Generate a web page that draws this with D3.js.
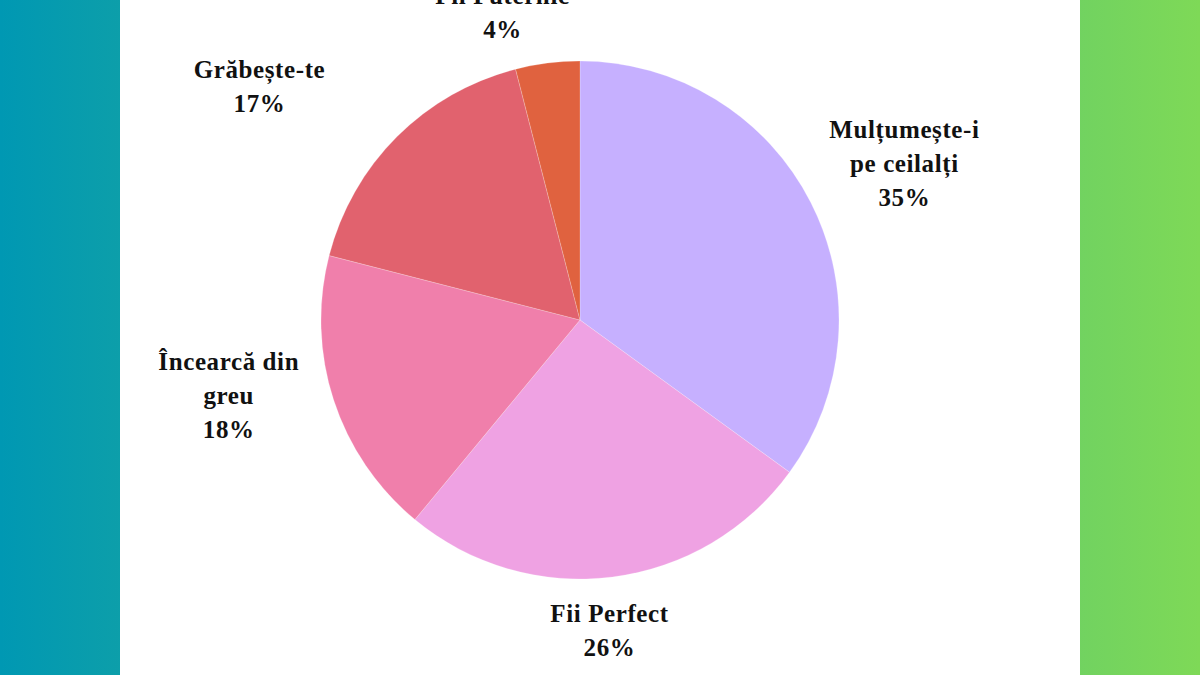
<!DOCTYPE html>
<html><head><meta charset="utf-8">
<script src="https://cdn.jsdelivr.net/npm/d3@7/dist/d3.min.js"></script>
<style>html,body{margin:0;padding:0;overflow:hidden;}svg{display:block;}</style>
</head><body><svg id="c" width="1200" height="675"></svg>
<script>
// ---- data ----
const categories = ["Mulțumește-i pe ceilalți", "Fii Perfect", "Încearcă din greu", "Grăbește-te", "Fii Puternic"];
const labelLines = [["Mulțumește-i", "pe ceilalți"], ["Fii Perfect"], ["Încearcă din", "greu"], ["Grăbește-te"], ["Fii Puternic"]];
const values = [35, 26, 18, 17, 4];
const colors = ["#c6b0ff", "#efa2e3", "#f07fab", "#e1626e", "#e0623f"];

// ---- layout ----
const W = 1200, H = 675, cx = 580, cy = 320, R = 259;
const fontSize = 25, lineH = 34, labelR = 280;
const nudges = [[8,-6],[-13,-1],[-18,-27],[-76,-11],[-34,4]];

const svg = d3.select("#c");
const defs = svg.append("defs");
const g = defs.append("linearGradient").attr("id","bg").attr("x1","0").attr("x2","1").attr("y1","0").attr("y2","0");
g.append("stop").attr("offset","0%").attr("stop-color","#0098b3");
g.append("stop").attr("offset","100%").attr("stop-color","#7ed957");
svg.append("rect").attr("width",W).attr("height",H).attr("fill","url(#bg)");
svg.append("rect").attr("x",120).attr("width",960).attr("height",H).attr("fill","#ffffff");

const pie = d3.pie().sort(null).value(d => d)(values);
const arc = d3.arc().innerRadius(0).outerRadius(R);
const gp = svg.append("g").attr("transform",`translate(${cx},${cy})`);
gp.selectAll("path").data(pie).join("path")
  .attr("d", arc).attr("fill", (d,i) => colors[i])
  .attr("stroke","#ffffff").attr("stroke-opacity",0.35).attr("stroke-width",0.6);

const lg = svg.append("g").attr("font-family","'Liberation Serif', 'Times New Roman', serif")
  .attr("font-weight","bold").attr("font-size",fontSize).attr("fill","#111").attr("letter-spacing","0.6px");
pie.forEach((d,i) => {
  const a = (d.startAngle + d.endAngle)/2;
  const lines = labelLines[i].concat([values[i] + "%"]);
  const t = lg.append("text").attr("text-anchor","middle");
  lines.forEach((l,k) => t.append("tspan").attr("x",0).attr("dy", k === 0 ? 0 : lineH).text(l));
  const bb = t.node().getBBox();
  const w = bb.width, h = lines.length * lineH;
  const ax = cx + labelR*Math.sin(a), ay = cy - labelR*Math.cos(a);
  const bx = ax + Math.sin(a)*w/2 + nudges[i][0];
  const by = ay - Math.cos(a)*h/2 + nudges[i][1];
  // first baseline so the block is centered at by
  const y0 = by - h/2 + lineH*0.5 + fontSize*0.33;
  t.attr("transform", `translate(${bx},${y0})`);
});
</script></body></html>
